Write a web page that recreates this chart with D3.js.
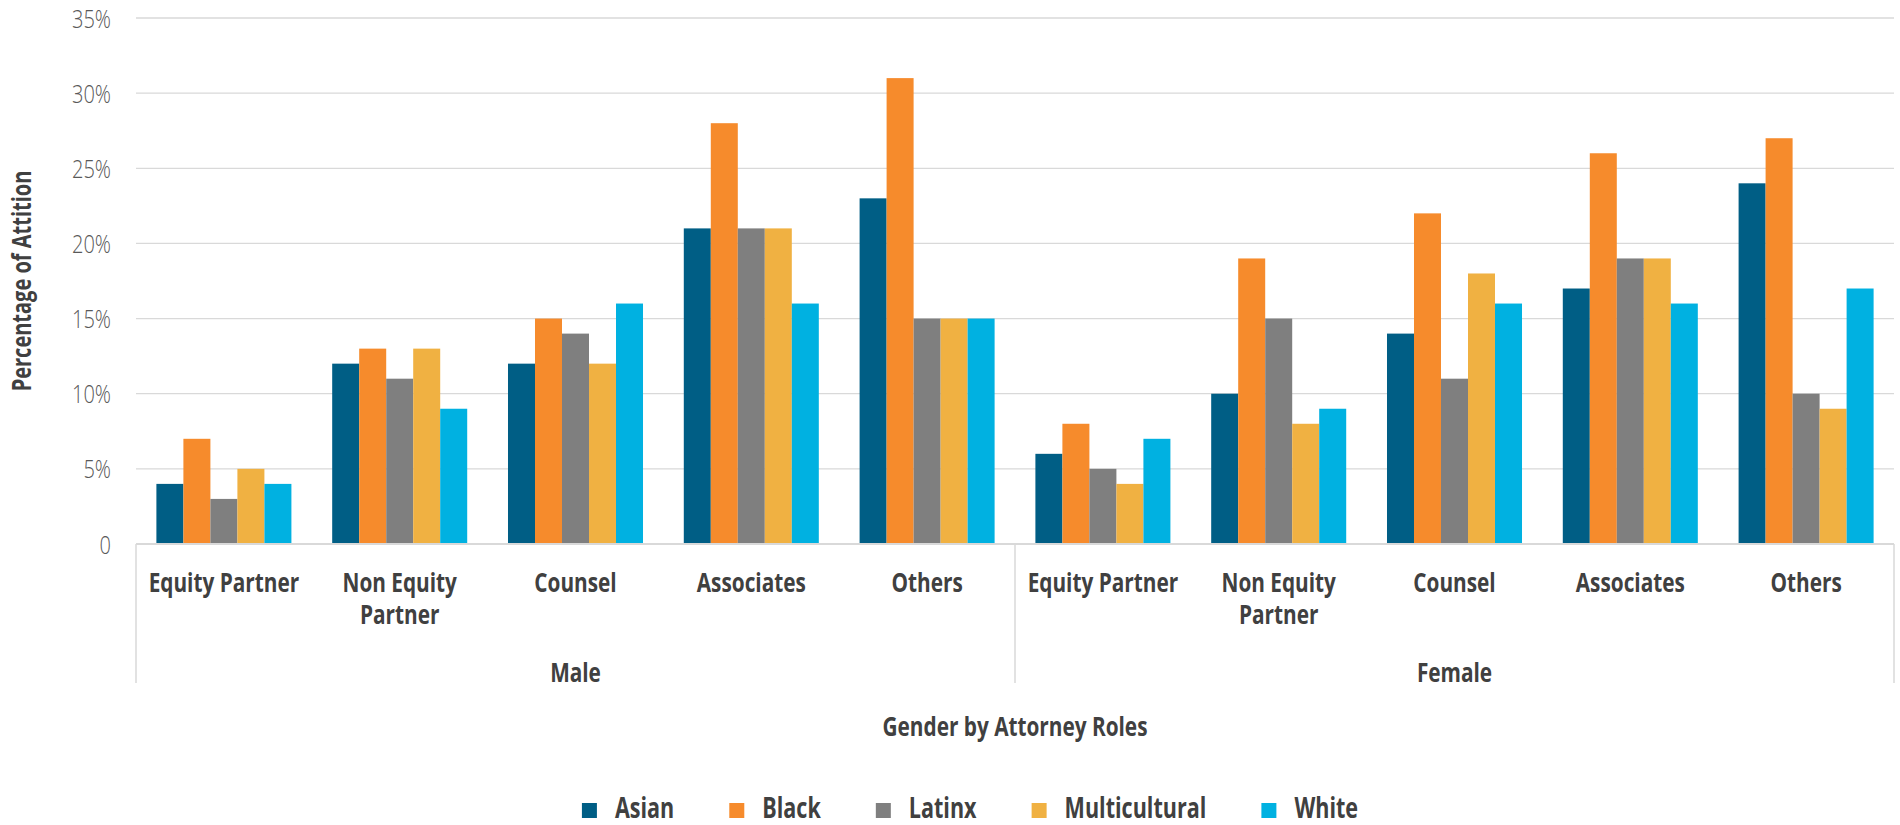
<!DOCTYPE html>
<html>
<head>
<meta charset="utf-8">
<script src="https://cdn.jsdelivr.net/npm/d3@7"></script>
<style>
  body { margin: 0; background: #ffffff; }
  svg { display: block; font-family: "Open Sans", "Noto Sans", sans-serif; }
</style>
</head>
<body>
<svg id="chart" width="1900" height="825"></svg>
<script>
// ---- data -------------------------------------------------------------
const genders = ["Male", "Female"];
const roles = ["Equity Partner", "Non Equity Partner", "Counsel", "Associates", "Others"];
const seriesNames = ["Asian", "Black", "Latinx", "Multicultural", "White"];
// attrition %, Male roles first then Female roles
const asian         = [4, 12, 12, 21, 23,  6, 10, 14, 17, 24];
const black         = [7, 13, 15, 28, 31,  8, 19, 22, 26, 27];
const latinx        = [3, 11, 14, 21, 15,  5, 15, 11, 19, 10];
const multicultural = [5, 13, 12, 21, 15,  4,  8, 18, 19,  9];
const white         = [4,  9, 16, 16, 15,  7,  9, 16, 16, 17];
const yTicks = [0, 5, 10, 15, 20, 25, 30, 35];
const yTitle = "Percentage of Attition";
const xTitle = "Gender by Attorney Roles";

const seriesValues = [asian, black, latinx, multicultural, white];
const colors = ["#005E85", "#F68B2C", "#7F7F7F", "#F0B142", "#00B1E1"];

// ---- layout -----------------------------------------------------------
const W = 1900, H = 825;
const plot = { left: 136, right: 1894, top: 18, bottom: 544 };
const CX = 0.77;               // horizontal squeeze giving a condensed face
const textDark = "#404040";
const gridColor = "#D9D9D9";

const svg = d3.select("#chart");

// one slot per gender/role pair
const slots = [];
genders.forEach((g, gi) => roles.forEach((r, ri) => slots.push({ gender: g, role: r, idx: gi * roles.length + ri })));

const x0 = d3.scaleBand()
  .domain(slots.map(d => d.idx))
  .range([plot.left, plot.right])
  .paddingInner(0.232)
  .paddingOuter(0.116);

const x1 = d3.scaleBand()
  .domain(seriesNames)
  .range([0, x0.bandwidth()]);

const y = d3.scaleLinear().domain([0, 35]).range([plot.bottom, plot.top]);

// condensed text helper
function ctext(parent, x, yy, str, size, weight, fill, anchor) {
  return parent.append("text")
    .attr("transform", `translate(${x},${yy}) scale(${CX},1)`)
    .attr("text-anchor", anchor || "middle")
    .style("font-size", size + "px")
    .style("font-weight", weight)
    .attr("fill", fill)
    .text(str);
}

function naturalWidth(str, size, weight) {
  const t = svg.append("text").style("font-size", size + "px").style("font-weight", weight).text(str);
  const w = t.node().getComputedTextLength();
  t.remove();
  return w * CX;
}

// ---- gridlines --------------------------------------------------------
svg.append("g").selectAll("line")
  .data(yTicks.filter(t => t > 0))
  .join("line")
  .attr("x1", plot.left).attr("x2", plot.right)
  .attr("y1", d => y(d)).attr("y2", d => y(d))
  .attr("stroke", gridColor).attr("stroke-width", 1.3);

// ---- y axis labels ----------------------------------------------------
const yAxis = d3.axisLeft(y)
  .tickValues(yTicks)
  .tickSize(0)
  .tickPadding(0)
  .tickFormat(d => d === 0 ? "0" : d + "%");

const yg = svg.append("g").attr("transform", `translate(111,0)`).call(yAxis);
yg.select(".domain").remove();
yg.selectAll("text")
  .attr("x", 0)
  .attr("dy", "0.35em")
  .attr("transform", `scale(${CX},1)`)
  .style("font-family", "\"Open Sans\", sans-serif")
  .style("font-size", "26px")
  .style("font-weight", 300)
  .attr("fill", "#595959");

// ---- bars -------------------------------------------------------------
const groups = svg.append("g").selectAll("g")
  .data(slots)
  .join("g")
  .attr("transform", d => `translate(${x0(d.idx)},0)`);

groups.selectAll("rect")
  .data(d => seriesNames.map((s, si) => ({ series: s, si, value: seriesValues[si][d.idx] })))
  .join("rect")
  .attr("x", d => x1(d.series))
  .attr("y", d => y(d.value))
  .attr("width", x1.bandwidth())
  .attr("height", d => y(0) - y(d.value))
  .attr("fill", d => colors[d.si]);

// ---- category axis frame ---------------------------------------------
const frameBottom = 683;
const divider = (x0(roles.length - 1) + x0.bandwidth() + x0(roles.length)) / 2;
const frame = svg.append("g").attr("stroke", gridColor).attr("stroke-width", 1.5);
frame.append("line").attr("x1", plot.left).attr("x2", plot.right).attr("y1", y(0)).attr("y2", y(0)).attr("stroke-width", 2);
[plot.left, divider, plot.right].forEach(xx => {
  frame.append("line").attr("x1", xx).attr("x2", xx).attr("y1", y(0)).attr("y2", frameBottom);
});

// role labels (wrapped to the slot width)
const catG = svg.append("g");
const catSize = 27, catLine = 31.5;
slots.forEach(d => {
  const cx = x0(d.idx) + x0.bandwidth() / 2;
  const words = d.role.split(" ");
  const lines = [];
  let cur = "";
  words.forEach(w => {
    const test = cur ? cur + " " + w : w;
    if (cur && naturalWidth(test, catSize, 700) > x0.step() - 8) { lines.push(cur); cur = w; }
    else cur = test;
  });
  lines.push(cur);
  lines.forEach((ln, li) => ctext(catG, cx, 592 + li * catLine, ln, catSize, 700, textDark));
});

// gender labels
genders.forEach((g, gi) => {
  const a = gi === 0 ? plot.left : divider;
  const b = gi === 0 ? divider : plot.right;
  ctext(svg, (a + b) / 2, 682, g, catSize, 700, textDark);
});

// axis titles
ctext(svg, (plot.left + plot.right) / 2, 736, xTitle, 27, 700, textDark);
svg.append("text")
  .attr("transform", `translate(31,${(plot.top + plot.bottom) / 2}) rotate(-90) scale(${CX},1)`)
  .attr("text-anchor", "middle")
  .style("font-size", "26px")
  .style("font-weight", 700)
  .attr("fill", textDark)
  .text(yTitle);

// ---- legend -----------------------------------------------------------
const sw = 15, gapText = 18, gapItem = 55, legendSize = 28;
const widths = seriesNames.map(s => naturalWidth(s, legendSize, 700));
const itemW = widths.map(w => sw + gapText + w);
const total = d3.sum(itemW) + gapItem * (seriesNames.length - 1);
let lx = 970 - total / 2;
const legend = svg.append("g");
seriesNames.forEach((s, i) => {
  legend.append("rect").attr("x", lx).attr("y", 803).attr("width", sw).attr("height", sw).attr("fill", colors[i]);
  ctext(legend, lx + sw + gapText, 818, s, legendSize, 700, textDark, "start");
  lx += itemW[i] + gapItem;
});
</script>
</body>
</html>
